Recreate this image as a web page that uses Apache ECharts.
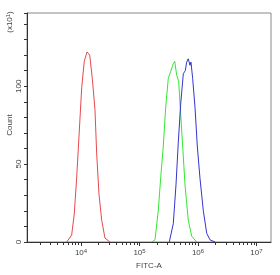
<!DOCTYPE html>
<html>
<head>
<meta charset="utf-8">
<script src="https://cdn.jsdelivr.net/npm/echarts@6/dist/echarts.min.js"></script>
<style>
  html, body { margin: 0; padding: 0; background: #fff; }
  #main { width: 280px; height: 275px; }
</style>
</head>
<body>
<div id="main"></div>
<script>
// FITC-A intensity / count pairs
var redFitc = [5700, 6930, 7670, 8430, 9250, 10280, 11380, 12680, 14090, 15600, 17340, 18530, 20320, 22590, 25700, 31330];
var redCount = [0, 4.5, 18, 41, 68, 99, 116, 122, 120, 105, 85, 57, 30.5, 14, 2.5, 0];

var greenFitc = [161800, 184100, 209400, 230100, 255300, 280500, 310500, 341200, 378400, 399900, 432500, 467700, 505800, 547000, 599800, 682300, 781600, 950600];
var greenCount = [0, 1.4, 20, 41, 61.6, 86.5, 105, 109.5, 114.5, 116, 107, 103, 82, 61.6, 36.7, 14, 3.7, 0];

var blueFitc = [322800, 378400, 420700, 460300, 505800, 561000, 606700, 641200, 682300, 729500, 758600, 810900, 889200, 972800, 1081000, 1233000, 1409000, 1603000, 1954000];
var blueCount = [0, 11.8, 36.7, 63.7, 88.5, 108, 110, 115.5, 117.6, 113.4, 115.5, 105, 86.5, 61.6, 41, 20, 5.6, 1.4, 0];

var majorExps = [4, 5, 6, 7];
var minorMults = [2, 3, 4, 5, 6, 7, 8, 9];
var yLabels = [0, 50, 100];

var xMin = 3.077, xMax = 7.248;

function pairs(xs, ys) {
    var out = [];
    for (var i = 0; i < xs.length; i++) {
        out.push([Math.log10(xs[i]), ys[i]]);
    }
    return out;
}

var minorTicks = [];
for (var e = 3; e <= 7; e++) {
    for (var m = 0; m < minorMults.length; m++) {
        var v = e + Math.log10(minorMults[m]);
        if (v > xMin && v < xMax) minorTicks.push(v);
    }
}

var myChart = echarts.init(document.getElementById('main'), null, {renderer: 'canvas'});

var option = {
    animation: false,
    grid: {
        left: 27, right: 9, top: 13, bottom: 26,
        show: true,
        borderColor: '#888',
        borderWidth: 1
    },
    xAxis: [
        {
            type: 'value',
            min: xMin,
            max: xMax,
            name: 'FITC-A',
            nameLocation: 'middle',
            nameGap: 20,
            nameTextStyle: {fontFamily: 'Liberation Sans', fontSize: 8, color: '#444'},
            axisLine: {show: true, lineStyle: {color: '#333', width: 1}},
            axisTick: {show: true, length: 4, customValues: majorExps, lineStyle: {color: '#333'}},
            splitLine: {show: false},
            axisLabel: {
                customValues: majorExps,
                margin: 6,
                formatter: function (v) {
                    return '10{sup|' + Math.round(v) + '}';
                },
                fontFamily: 'Liberation Sans',
                fontSize: 8,
                color: '#444',
                rich: {
                    sup: {fontSize: 6, verticalAlign: 'top', padding: [0, 0, 4, 0], color: '#444', fontFamily: 'Liberation Sans'}
                }
            }
        },
        {
            type: 'value',
            min: xMin,
            max: xMax,
            position: 'bottom',
            axisLine: {show: false},
            axisTick: {show: true, length: 3, customValues: minorTicks, lineStyle: {color: '#333'}},
            axisLabel: {show: false},
            splitLine: {show: false}
        }
    ],
    yAxis: {
        type: 'value',
        min: 0,
        max: 147,
        interval: 10,
        axisLine: {show: true, lineStyle: {color: '#333', width: 1}},
        axisTick: {show: true, length: 3, lineStyle: {color: '#333'}},
        splitLine: {show: false},
        axisLabel: {
            customValues: yLabels,
            rotate: 90,
            margin: 4,
            fontFamily: 'Liberation Sans',
            fontSize: 8,
            color: '#444'
        }
    },
    graphic: [
        {
            type: 'text',
            x: 10,
            y: 22,
            rotation: Math.PI / 2,
            style: {
                text: '(x10{sup|1})',
                fontFamily: 'Liberation Sans',
                fontSize: 8,
                fill: '#444',
                align: 'center',
                verticalAlign: 'middle',
                rich: {sup: {fontSize: 6, verticalAlign: 'top', padding: [0, 0, 4, 0], fill: '#444'}}
            }
        },
        {
            type: 'text',
            x: 10,
            y: 125,
            rotation: Math.PI / 2,
            style: {
                text: 'Count',
                fontFamily: 'Liberation Sans',
                fontSize: 8,
                fill: '#444',
                align: 'center',
                verticalAlign: 'middle'
            }
        }
    ],
    series: [
        {
            name: 'red',
            type: 'line',
            showSymbol: false,
            data: pairs(redFitc, redCount),
            lineStyle: {color: '#e8484c', width: 1},
            itemStyle: {color: '#e8484c'}
        },
        {
            name: 'green',
            type: 'line',
            showSymbol: false,
            data: pairs(greenFitc, greenCount),
            lineStyle: {color: '#33e633', width: 1},
            itemStyle: {color: '#33e633'}
        },
        {
            name: 'blue',
            type: 'line',
            showSymbol: false,
            data: pairs(blueFitc, blueCount),
            lineStyle: {color: '#3535cc', width: 1},
            itemStyle: {color: '#3535cc'}
        }
    ]
};
myChart.setOption(option);
</script>
</body>
</html>
